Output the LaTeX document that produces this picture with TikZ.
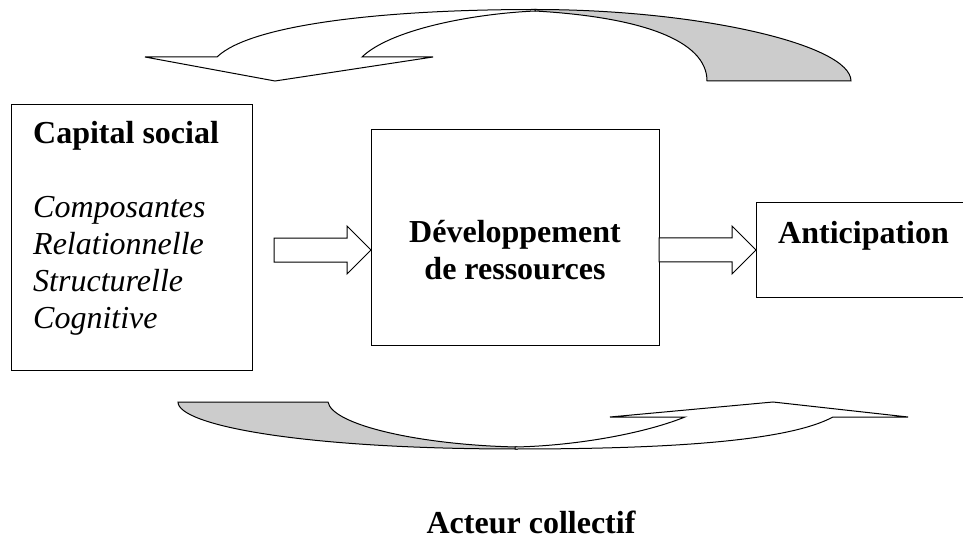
\documentclass[tikz,border=0pt]{standalone}
\usepackage{fontspec}
\setmainfont{Liberation Serif}
\definecolor{shade}{HTML}{CCCCCC}
\tikzset{
  txt/.style={inner sep=0pt, font=\fontsize{32bp}{36.8bp}\selectfont},
  boldtxt/.style={inner sep=0pt, font=\fontsize{32bp}{36.8bp}\selectfont\bfseries},
  itxt/.style={inner sep=0pt, font=\fontsize{32bp}{36.8bp}\selectfont\itshape, anchor=base west},
  box/.style={draw, line width=1bp, inner sep=0pt, anchor=north west},
  outline/.style={draw, line width=1bp, line join=miter},
}
\begin{document}
\begin{tikzpicture}[x=1bp, y=-1bp]
\clip (0,0) rectangle (963,538);
\fill[white] (0,0) rectangle (963,538);

% boxes
\node[box, minimum width=241bp, minimum height=266bp] (cap) at (11,104) {};
\node[box, minimum width=288bp, minimum height=216bp] (dev) at (371,129) {};
\node[box, minimum width=230bp, minimum height=95bp] (ant) at (756,202) {};

% texts
\node[boldtxt, anchor=base west] (capt) at (33,144) {Capital social};
\node[itxt] (c1) at (33,218) {Composantes};
\node[itxt] (c2) at (33,255) {Relationnelle};
\node[itxt] (c3) at (33,292) {Structurelle};
\node[itxt] (c4) at (33,329) {Cognitive};
\node[boldtxt, anchor=base] (d1) at (515,243) {Développement};
\node[boldtxt, anchor=base] (d2) at (515,280) {de ressources};
\node[boldtxt, anchor=base west] (antt) at (778,244) {Anticipation};
\node[boldtxt, anchor=base] (act) at (531,533) {Acteur collectif};

% block arrows
\coordinate (t1) at ([yshift=-12.5bp]dev.west);
\draw[outline, fill=white] (t1) -- ++(-24,24) -- ++(0,-12) -- ++(-73,0) -- ++(0,-24) -- ++(73,0) -- ++(0,-12) -- cycle;
\coordinate (t2) at (ant.west);
\draw[outline, fill=white] (t2) -- ++(-24,24) -- ++(0,-12) -- ++(-73,0) -- ++(0,-24) -- ++(73,0) -- ++(0,-12) -- cycle;

% top curved arrow (back part, shaded)
\draw[outline, fill=shade] (535,9.5) .. controls (700,9.5) and (851,45) .. (851,81)
  -- (707,81) .. controls (707,40) and (640,17) .. (535,11) -- cycle;
% top curved arrow (front part)
\draw[outline, fill=white] (145,57) -- (217,57) .. controls (250,25) and (380,9.5) .. (535,9.5)
  -- (535,11) .. controls (470,14) and (390,30) .. (362,57)
  -- (433,57) -- (275,81) -- cycle;

% bottom curved arrow (back part, shaded)
\draw[outline, fill=shade] (178,402) -- (328,402) .. controls (332,425) and (420,445) .. (517,447)
  -- (517,449) .. controls (300,449) and (178,425) .. (178,402) -- cycle;
% bottom curved arrow (front part)
\draw[outline, fill=white] (515,449) .. controls (680,449) and (790,440) .. (833,417)
  -- (908,417) -- (773,402) -- (610,417) -- (685,417)
  .. controls (640,435) and (570,446) .. (515,447) -- cycle;
\end{tikzpicture}
\end{document}
